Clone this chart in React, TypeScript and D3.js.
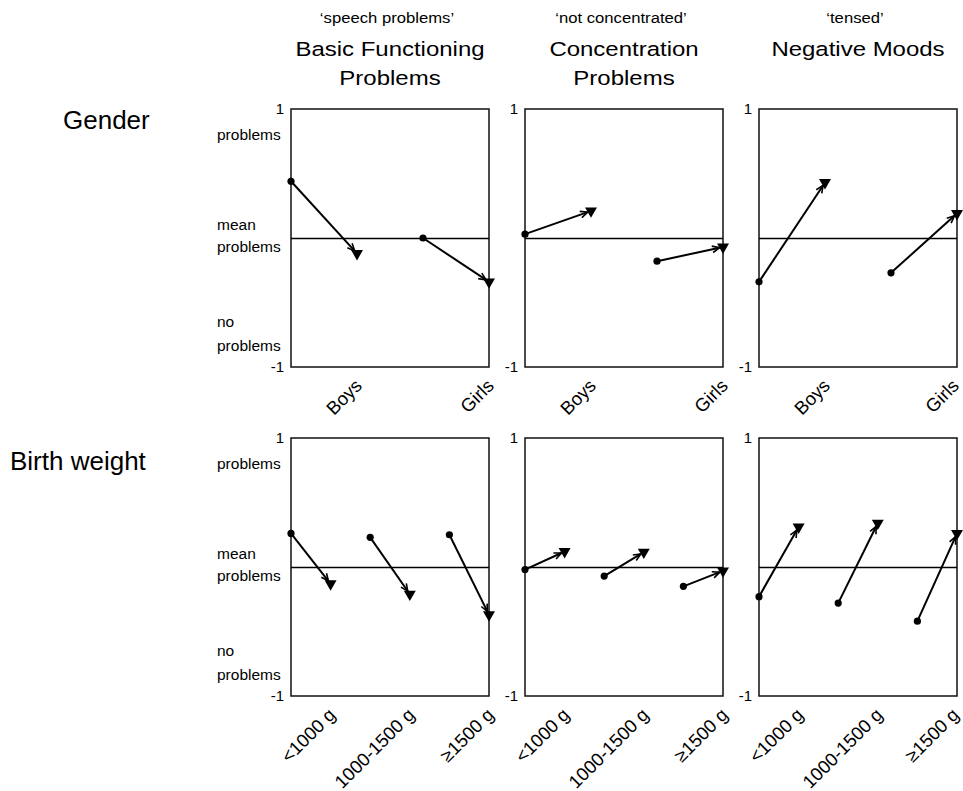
import React, { useEffect, useRef } from 'react';
import * as d3 from 'd3';

// column headers
const subTitles = ['\u2018speech problems\u2019', '\u2018not concentrated\u2019', '\u2018tensed\u2019'];
const titles = [['Basic Functioning', 'Problems'], ['Concentration', 'Problems'], ['Negative Moods']];
const rowLabels = ['Gender', 'Birth weight'];

// x categories
const genderCats = ['Boys', 'Girls'];
const weightCats = ['<1000 g', '1000-1500 g', '\u22651500 g'];

// y tick labels
const yTicks = [1, -1];

// values: start (dot) -> end (triangle), per category
const genderBasicStart = [0.44, 0.0];
const genderBasicEnd = [-0.12, -0.34];
const genderConcStart = [0.03, -0.18];
const genderConcEnd = [0.21, -0.07];
const genderMoodStart = [-0.34, -0.27];
const genderMoodEnd = [0.43, 0.19];

const weightBasicStart = [0.26, 0.23, 0.25];
const weightBasicEnd = [-0.13, -0.21, -0.37];
const weightConcStart = [-0.02, -0.07, -0.15];
const weightConcEnd = [0.12, 0.115, -0.03];
const weightMoodStart = [-0.23, -0.28, -0.42];
const weightMoodEnd = [0.31, 0.34, 0.26];

const App = () => {
    const svgRef = useRef(null);

    useEffect(() => {
        const width = 963;
        const height = 791;
        const font = '"Liberation Sans", Arial, Helvetica, sans-serif';

        const colLeft = [291, 525, 759];
        const panelW = 198;
        const rowTop = [109, 438];
        const panelH = 258;

        const svg = d3.select(svgRef.current);
        svg.selectAll('*').remove();
        svg.attr('width', width).attr('height', height)
            .style('font-family', font);

        svg.append('rect').attr('width', width).attr('height', height).attr('fill', '#fff');

        // headers
        colLeft.forEach((left, i) => {
            const cx = left + panelW / 2;
            svg.append('text')
                .attr('transform', `translate(${cx - 3},23) scale(1.15,1)`)
                .attr('text-anchor', 'middle')
                .style('font-size', '14.5px')
                .text(subTitles[i]);
            titles[i].forEach((t, j) => {
                svg.append('text')
                    .attr('transform', `translate(${cx},${55.5 + j * 29}) scale(1.17,1)`)
                    .attr('text-anchor', 'middle')
                    .style('font-size', '20.5px')
                    .text(t);
            });
        });

        // row labels
        svg.append('text').attr('x', 63).attr('y', 129).style('font-size', '26px').text(rowLabels[0]);
        svg.append('text').attr('x', 10).attr('y', 470).style('font-size', '26px').text(rowLabels[1]);

        const panels = [
            { row: 0, col: 0, cats: genderCats, start: genderBasicStart, end: genderBasicEnd },
            { row: 0, col: 1, cats: genderCats, start: genderConcStart, end: genderConcEnd },
            { row: 0, col: 2, cats: genderCats, start: genderMoodStart, end: genderMoodEnd },
            { row: 1, col: 0, cats: weightCats, start: weightBasicStart, end: weightBasicEnd },
            { row: 1, col: 1, cats: weightCats, start: weightConcStart, end: weightConcEnd },
            { row: 1, col: 2, cats: weightCats, start: weightMoodStart, end: weightMoodEnd },
        ];

        const triangle = d3.symbol().type(d3.symbolTriangle).size(62);

        panels.forEach(p => {
            const left = colLeft[p.col];
            const top = rowTop[p.row];
            const n = p.cats.length;

            const x = d3.scaleLinear().domain([0, 2 * n - 1]).range([left, left + panelW]);
            const y = d3.scaleLinear().domain([-1, 1]).range([top + panelH, top]);

            const g = svg.append('g');

            // frame
            g.append('rect')
                .attr('x', left).attr('y', top)
                .attr('width', panelW).attr('height', panelH)
                .attr('fill', 'none').attr('stroke', '#111').attr('stroke-width', 1.5);

            // mean line
            g.append('line')
                .attr('x1', left).attr('x2', left + panelW)
                .attr('y1', Math.round(y(0)) + 0.5).attr('y2', Math.round(y(0)) + 0.5)
                .attr('stroke', '#000').attr('stroke-width', 1.3);

            // tick labels 1 / -1
            yTicks.forEach(t => {
                g.append('text')
                    .attr('x', left - 7).attr('y', y(t) + 5)
                    .attr('text-anchor', 'end')
                    .style('font-size', '15px')
                    .text(t === -1 ? '-1' : String(t));
            });

            // verbal y labels on first column
            if (p.col === 0) {
                const lx = left - 74;
                const lbl = [
                    ['problems', top + 31],
                    ['mean', y(0) - 8],
                    ['problems', y(0) + 14],
                    ['no', top + panelH - 40],
                    ['problems', top + panelH - 16],
                ];
                lbl.forEach(([t, yy]) => {
                    g.append('text').attr('x', lx).attr('y', yy)
                        .style('font-size', '15.5px').text(t);
                });
            }

            // category labels
            p.cats.forEach((c, i) => {
                const tx = Math.min(x(2 * i + 1) + 6, width - 3);
                const ty = top + panelH + 20;
                g.append('text')
                    .attr('transform', `translate(${tx},${ty}) rotate(-45)`)
                    .attr('text-anchor', 'end')
                    .style('font-size', '18.5px')
                    .text(c);
            });

            // arrows
            p.cats.forEach((c, i) => {
                const x0 = x(2 * i), y0 = y(p.start[i]);
                const x1 = x(2 * i + 1), y1 = y(p.end[i]);
                const ang = Math.atan2(y1 - y0, x1 - x0);
                const tipX = x1 - 3.5 * Math.cos(ang);
                const tipY = y1 - 3.5 * Math.sin(ang);

                g.append('line')
                    .attr('x1', x0).attr('y1', y0)
                    .attr('x2', tipX).attr('y2', tipY)
                    .attr('stroke', '#000').attr('stroke-width', 2);

                const hl = 8, ha = 0.42;
                const path = d3.path();
                path.moveTo(tipX - hl * Math.cos(ang - ha), tipY - hl * Math.sin(ang - ha));
                path.lineTo(tipX, tipY);
                path.lineTo(tipX - hl * Math.cos(ang + ha), tipY - hl * Math.sin(ang + ha));
                g.append('path')
                    .attr('d', path.toString())
                    .attr('fill', 'none').attr('stroke', '#000').attr('stroke-width', 1.6);

                g.append('circle')
                    .attr('cx', x0).attr('cy', y0).attr('r', 3.6)
                    .attr('fill', '#000');

                g.append('path')
                    .attr('d', triangle())
                    .attr('transform', `translate(${x1},${y1}) rotate(180)`)
                    .attr('fill', '#000');
            });
        });
    }, []);

    return (
        <svg ref={svgRef} style={{ position: 'absolute', left: 0, top: 0 }} />
    );
};

export default App;
